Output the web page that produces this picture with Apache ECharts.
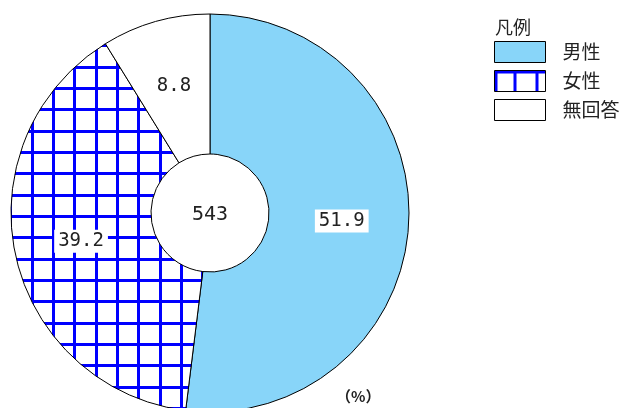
<!DOCTYPE html>
<html><head><meta charset="utf-8">
<script src="https://cdn.jsdelivr.net/npm/echarts@6/dist/echarts.min.js"></script>
<style>html,body{margin:0;padding:0;background:#fff}#c{width:625px;height:408px}</style>
</head><body><div id="c"></div>
<script>
const categories = ['男性', '女性', '無回答'];
const values = [51.9, 39.2, 8.8];
const total = 543;
const legendTitle = '凡例';
const unitText = '（%）';

function makeGrid(vx, hy, size) {
  const cv = document.createElement('canvas');
  cv.width = size; cv.height = size;
  const g = cv.getContext('2d');
  g.fillStyle = '#fff'; g.fillRect(0, 0, size, size);
  g.fillStyle = '#0000ff';
  vx.forEach(x => g.fillRect(x, 0, 3, size));
  hy.forEach(y => g.fillRect(0, y, size, 3));
  return cv;
}
const gridPattern = { image: makeGrid([9, 31, 52], [2, 23, 44], 64), repeat: 'repeat' };
const legendPattern = { image: makeGrid([0, 19, 41], [0], 64), repeat: 'repeat' };
const colors = ['#88d5f9', gridPattern, '#ffffff'];

const chart = echarts.init(document.getElementById('c'));
chart.setOption({
  animation: false,
  title: {
    text: legendTitle, left: 490, top: 13,
    textStyle: { fontFamily: 'Noto Sans CJK JP', fontSize: 18, fontWeight: 'normal', color: '#222' }
  },
  legend: {
    orient: 'vertical', left: 489, top: 36, itemWidth: 51, itemHeight: 21, itemGap: 7,
    selectedMode: false, icon: 'rect',
    itemStyle: { borderColor: '#000', borderWidth: 1 },
    textStyle: { fontFamily: 'Noto Sans CJK JP', fontSize: 19, color: '#222', padding: [0, 0, 0, 12] },
    data: categories.map((n, i) => i === 1 ? { name: n, itemStyle: { color: legendPattern } } : { name: n })
  },
  graphic: [
    { type: 'text', x: 210, y: 215, style: { text: String(total), align: 'center', verticalAlign: 'middle',
      font: '20px "DejaVu Sans Mono"', fill: '#222' } },
    { type: 'text', x: 336, y: 396, style: { text: unitText, align: 'left', verticalAlign: 'middle',
      font: 'bold 15px "Noto Sans CJK JP"', fill: '#222' } }
  ],
  series: [{
    type: 'pie', center: [210, 213], radius: [59, 199], startAngle: 90, clockwise: true,
    avoidLabelOverlap: false, silent: true,
    itemStyle: { borderColor: '#000', borderWidth: 1 },
    emphasis: { disabled: true },
    label: { show: true, position: 'inside', formatter: p => p.value.toFixed(1),
      fontFamily: 'DejaVu Sans Mono', fontSize: 19, color: '#222', backgroundColor: '#fff', padding: [2, 4] },
    labelLine: { show: false },
    data: categories.map((n, i) => ({ name: n, value: values[i], itemStyle: { color: colors[i] } }))
  }]
});
</script></body></html>
